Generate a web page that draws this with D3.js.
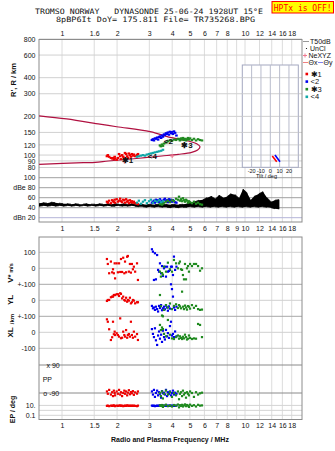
<!DOCTYPE html>
<html><head><meta charset="utf-8">
<script src="https://cdn.jsdelivr.net/npm/d3@7/dist/d3.min.js"></script>
<style>
body{margin:0;background:#fff;}
svg{display:block;}
text{font-family:"Liberation Sans",Arial,sans-serif;fill:#111;}
.mono{font-family:"DejaVu Sans Mono","Liberation Mono",monospace;}
</style></head><body>
<svg id="chart" width="335" height="451"></svg>
<script>
// ---------- header text ----------
const titleLine1 = "TROMSO NORWAY   DYNASONDE 25-06-24 1928UT 15°E";
const titleLine2 = "8pBP6It DoY= 175.811 File= TR735268.BPG";
const statusText = "HPTx is OFF!";

// ---------- axis ticks ----------
const freqTicksTop = [1, 1.5, 2, 3, 4, 5, 6, 7, 8, 10, 12, 14, 16, 18];
const freqLabelsTop = ["1", "1.6", "2", "3", "4", "5", "6", "7", "8", "10", "12", "14", "16", "18"];
const freqTicksMid = [1, 1.5, 2, 3, 4, 5, 6, 7, 8, 9, 10, 12, 14, 16, 18];
const freqTicksBottom = [1, 1.5, 2, 3, 4, 5, 6, 7, 8, 10, 12, 14, 16, 18];
const freqGrid = [1, 1.5, 2, 3, 4, 5, 6, 7, 8, 9, 10, 12, 14, 16, 18];
const heightTicks = [80, 90, 100, 120, 150, 200, 300, 400, 600, 800];
const dbTicks = [20, 40, 60, 80, 100];
const tiltTicks = [-20, -10, 0, 10, 20];
const tiltGrid = [-20, -10, 0, 10, 20];

// ---------- profile trace (MHz, km) ----------
const profileTrace = [
  [0.75, 202], [1.06, 191], [1.61, 174], [1.99, 166], [3.03, 152], [3.89, 137.4],
  [4.15, 135], [4.90, 128.6], [5.45, 122.6], [5.68, 116], [5.51, 109.5], [5.11, 105],
  [4.32, 101.3], [3.51, 98.3], [2.84, 95.4], [2.30, 92.7], [1.79, 89.9], [1.52, 87.8],
  [1.31, 87.2], [0.75, 84.7]
];
const neXYZ = [[4.0, 98.3], [2.19, 88.8]];

// ---------- tilt (deg, km) ----------
const tiltX = [[2.1, 98.3], [6.9, 88.8]];
const tiltY = [[5.0, 100], [10.4, 88.8]];

// ---------- noise amplitude (MHz, dB upper, dB lower) ----------
const noiseFreq = [0.749, 0.787, 0.828, 0.871, 0.916, 0.963, 1.013, 1.065, 1.120, 1.178, 1.239, 1.302,
  1.370, 1.440, 1.515, 1.593, 1.675, 1.762, 1.852, 1.948, 2.049, 2.154, 2.265, 2.382, 2.505, 2.634,
  2.771, 2.913, 3.064, 3.222, 3.389, 3.563, 3.747, 3.940, 4.145, 4.358, 4.583, 4.821, 5.070, 5.332,
  5.606, 5.895, 6.199, 6.520, 6.857, 7.210, 7.582, 7.973, 8.385, 8.819, 9.273, 9.752, 10.25, 10.78,
  11.34, 11.93, 12.54, 13.19, 13.87, 14.58, 15.34];
const noiseHi = [49, 50, 49, 51, 50, 49, 48, 48, 47, 48, 47, 47, 48, 47, 47, 48, 47, 48, 47, 48, 47, 48,
  47, 48, 47, 46, 47, 46, 47, 46, 47, 46, 47, 46, 47, 46, 47, 48, 50, 52, 55, 56, 60, 63, 58, 65, 60, 62,
  68, 66, 59, 77, 70, 55, 64, 68, 72, 60, 52, 55, 56];
const noiseLo = [43, 44, 43, 44, 43, 44, 43, 44, 43, 44, 43, 44, 43, 44, 43, 44, 43, 44, 43, 43, 44, 43,
  43, 44, 43, 42, 42, 41, 42, 41, 42, 41, 41, 40, 41, 40, 41, 41, 42, 41, 42, 41, 42, 41, 42, 41, 42, 41,
  42, 41, 42, 41, 42, 41, 42, 41, 42, 41, 40, 38, 37];

// ---------- echoes per source: MHz, km, dB, V* m/s, YL km, XL km, PP deg, EP deg ----------
const source1 = [
  [1.76, 98, 52, 58, -4, 81, -80, 8], [1.78, 100, 50, 27, 2, 66, -95, 9], [1.81, 97, 54, -31, 2, 19, -70, 7],
  [1.85, 95, 49, 42, 19, -48, -100, 9], [1.88, 94, 55, -25, 23, -31, -85, 8], [1.90, 95, 53, -6, 23, 66, -110, 9],
  [1.92, 93, 51, -31, 33, -12, -75, 10], [1.94, 97, 56, 31, 33, 4, -90, 8], [1.95, 94, 50, -63, 33, -17, -105, 7],
  [1.99, 92, 57, 31, 38, -6, -80, 9], [2.02, 95, 52, -25, 38, -17, -95, 8], [2.05, 102, 54, 31, 27, -27, -70, 9],
  [2.08, 98, 58, -23, 44, 87, -100, 10], [2.10, 93, 53, 58, 40, -37, -85, 8], [2.13, 100, 51, -23, 12, -34, -110, 9],
  [2.16, 97, 56, 66, 23, 4, -90, 7], [2.19, 95, 55, -31, 2, -17, -75, 8], [2.21, 104, 50, 42, -2, -27, -95, 9],
  [2.24, 102, 57, -25, 16, 14, -80, 8], [2.27, 98, 52, 72, -9, -34, -105, 10], [2.29, 95, 54, 77, 2, -17, -88, 9],
  [2.32, 103, 49, -21, -2, -11, -72, 8], [2.35, 100, 55, 27, 16, -27, -98, 9], [2.38, 97, 51, -27, -19, 66, -84, 8],
  [2.41, 102, 53, 27, -12, -17, -92, 9], [2.44, 99, 50, -6, 2, -34, -78, 8], [2.47, 101, 52, 10, -2, 4, -102, 9],
  [2.51, 98, 49, -21, -19, -27, -86, 8], [2.57, 100, 48, 31, -12, -11, -94, 7], [2.60, 102, 47, -73, -12, -48, -80, 9]
];
const source2 = [
  [3.10, 131, 50, 119, -35, 20, -80, 9], [3.14, 133, 52, 104, -50, -10, -100, 8], [3.18, 130, 54, -73, -45, -30, -70, 9],
  [3.22, 135, 50, 94, -60, 25, -115, 7], [3.26, 134, 56, -69, -40, -50, -90, 8], [3.31, 137, 53, 83, -55, -79, -75, 9],
  [3.35, 132, 55, -10, -70, -20, -105, 8], [3.39, 138, 51, -21, -35, 5, -85, 9], [3.43, 140, 57, 31, -48, -40, -95, 10],
  [3.48, 136, 52, -31, -30, -15, -120, 8], [3.52, 142, 54, 14, -62, -60, -78, 9], [3.56, 139, 50, -48, -50, 10, -92, 8],
  [3.61, 145, 56, 0, -40, -30, -88, 9], [3.65, 143, 58, 10, -56, -45, -100, 8], [3.70, 148, 53, -52, -33, 15, -70, 9],
  [3.75, 146, 55, 10, -45, -25, -110, 8], [3.79, 150, 51, -21, -65, -5, -85, 9], [3.84, 144, 57, -17, -38, -35, -95, 8],
  [3.89, 152, 54, -10, -52, 39, -80, 9], [3.94, 148, 56, 10, 100, 66, -105, 8], [3.99, 151, 52, 10, 70, -20, -90, 9],
  [4.04, 146, 55, -42, 23, -10, -75, 8], [4.09, 153, 53, 73, -45, -30, -100, 9], [4.15, 149, 51, -10, -60, 5, -88, 8],
  [4.22, 142, 50, 10, -40, -25, -95, 9]
];
const source3 = [
  [3.43, 119, 47, -21, 33, 46, -90, 10], [3.47, 117, 49, -52, -37, 14, -110, 8], [3.52, 121, 46, -30, -95, 30, -80, 12],
  [3.56, 118, 48, -40, -100, 20, -125, 5], [3.61, 123, 50, 10, -60, -10, -95, 9], [3.70, 125, 52, -21, -30, -25, -75, 14],
  [3.79, 128, 54, 35, -45, 77, -100, 7], [3.89, 130, 51, -6, -20, -15, -85, 10], [3.99, 129, 55, -21, -55, -38, -115, 6],
  [4.09, 132, 53, 52, -35, -42, -90, 12], [4.20, 131, 58, 31, -25, -30, -105, 9], [4.30, 134, 56, 0, -48, -20, -80, 15],
  [4.36, 133, 62, 31, -30, -40, -130, 4], [4.41, 130, 54, 42, -38, -25, -95, 11], [4.47, 135, 57, -6, -50, -35, -85, 8],
  [4.53, 132, 53, -10, 54, -42, -110, 13], [4.58, 136, 59, -42, -40, -28, -75, 6], [4.64, 131, 55, -69, -55, -38, -100, 10],
  [4.70, 134, 52, 27, -33, -15, -90, 16], [4.76, 130, 56, -69, -45, -30, -120, 7], [4.82, 133, 54, 0, -58, -45, -85, 12],
  [4.88, 136, 50, 14, -36, -40, -95, 9], [4.94, 132, 53, -21, -40, -20, -105, 5], [5.01, 135, 51, 27, -52, -35, -80, 14],
  [5.13, 131, 49, 14, -30, -42, -90, 8], [5.26, 134, 52, 27, -47, -38, -115, 11], [5.40, 130, 48, 27, -35, -40, -85, 6],
  [5.54, 133, 50, 14, -55, 52, -100, 13], [5.68, 131, 47, -15, -60, 46, -92, 9], [5.82, 130, 46, 0, -58, -30, -88, 10]
];
const source4 = [
  [2.57, 97, 50], [2.63, 98, 54], [2.70, 99, 48], [2.77, 100, 52], [2.84, 99, 55], [2.91, 101, 49], [2.99, 102, 53],
  [3.06, 103, 56], [3.14, 104, 50], [3.22, 105, 54], [3.31, 106, 52], [3.39, 107, 55], [3.48, 108, 51], [3.56, 110, 53]
];
const sourceNames = ["✱1", "<2", "✱3", "<4"];
const sourceColors = ["#ee0000", "#0000ee", "#208a20", "#10a8a8"];
const sourceMarks = [[2.28, 92.3], [3.81, 129.5], [4.82, 120.3], [3.12, 97.5]];

// ---------- layout ----------
const L = 39, R = 302;
const s1Top = 39.5, s1Bot = 222, s2Top = 237, s2Bot = 419.5;

const svg = d3.select("#chart");

const x = d3.scaleLog().domain([1, 10]).range([62, 245]);
const yH = d3.scaleLog().domain([80, 800]).range([167.5, 39]);
const yDb = d3.scaleLinear().domain([20, 100]).range([217.7, 177.7]);
const yV = d3.scaleLinear().domain([-100, 100]).range([284.3, 252.3]);
const yYL = d3.scaleLinear().domain([-100, 100]).range([316.3, 284.3]);
const yXL = d3.scaleLinear().domain([-100, 100]).range([348.3, 316.3]);
const yPP = d3.scaleLinear().domain([-90, 90]).range([393, 365]);
const yEP = d3.scaleLog().domain([0.1, 10]).range([415.3, 405.4]);
const xTilt = d3.scaleLinear().domain([-30, 30]).range([242.3, 298.3]);
const hTiltTop = 65, hTiltBot = 167.3;

const defs = svg.append("defs");
defs.append("clipPath").attr("id", "clipH").append("rect")
  .attr("x", L).attr("y", s1Top).attr("width", R - L).attr("height", 172 - s1Top);
defs.append("clipPath").attr("id", "clip1").append("rect")
  .attr("x", L).attr("y", s1Top).attr("width", R - L).attr("height", s1Bot - s1Top);

// ---------- header ----------
svg.append("text").attr("class", "mono").attr("x", 35).attr("y", 13.6)
  .attr("textLength", 228).attr("lengthAdjust", "spacingAndGlyphs")
  .style("font-size", "7.4px").attr("xml:space", "preserve").text(titleLine1);
svg.append("text").attr("class", "mono").attr("x", 56).attr("y", 22.3)
  .attr("textLength", 199).attr("lengthAdjust", "spacingAndGlyphs")
  .style("font-size", "7.4px").attr("xml:space", "preserve").text(titleLine2);
svg.append("rect").attr("x", 272).attr("y", 1.5).attr("width", 61.5).attr("height", 11.5)
  .attr("fill", "#ffff00").attr("stroke", "#ff0000").attr("stroke-width", 1);
svg.append("text").attr("class", "mono").attr("x", 302.7).attr("y", 10.6).attr("text-anchor", "middle")
  .style("font-size", "8px").style("fill", "#ff0000").text(statusText);

// ---------- section grids ----------
function vGrid(top, bot) {
  svg.append("g").selectAll("line").data(freqGrid).join("line")
    .attr("x1", d => x(d)).attr("x2", d => x(d)).attr("y1", top).attr("y2", bot)
    .attr("stroke", "#dcdcdc").attr("stroke-width", 1);
}
vGrid(s1Top, s1Bot);
vGrid(s2Top, s2Bot);

// height gridlines
svg.append("g").selectAll("line").data(heightTicks).join("line")
  .attr("x1", L).attr("x2", R).attr("y1", d => yH(d)).attr("y2", d => yH(d))
  .attr("stroke", "#d0d0d0");
// amplitude gridlines
svg.append("g").selectAll("line").data(dbTicks).join("line")
  .attr("x1", L).attr("x2", R).attr("y1", d => yDb(d)).attr("y2", d => yDb(d))
  .attr("stroke", d => d === 20 ? "#b4b4d8" : "#a0a0a0");

// lower section gridlines
const lowerLines = [
  [yV(100), "#d0d0d0"], [yV(0), "#d0d0d0"], [yV(-100), "#a8a8a8"],
  [yYL(0), "#d0d0d0"], [yYL(-100), "#a8a8a8"], [yXL(0), "#d0d0d0"], [yXL(-100), "#c8c8c8"],
  [yPP(90), "#8a8a8a"], [yPP(-90), "#8a8a8a"],
  [yEP(10), "#d4d4d4"], [yEP(1), "#d4d4d4"], [yEP(0.1), "#d4d4d4"]
];
svg.append("g").selectAll("line").data(lowerLines).join("line")
  .attr("x1", L).attr("x2", R).attr("y1", d => d[0]).attr("y2", d => d[0])
  .attr("stroke", d => d[1]);

// section frames
[[s1Top, s1Bot], [s2Top, s2Bot]].forEach(([t, b]) => {
  svg.append("rect").attr("x", L).attr("y", t).attr("width", R - L).attr("height", b - t)
    .attr("fill", "none").attr("stroke", "#8c8c8c").attr("stroke-width", 1);
});

// ---------- frequency axes ----------
function freqAxis(axisFn, vals, labels, yPos) {
  const ax = axisFn(x).tickValues(vals).tickSize(0).tickPadding(0)
    .tickFormat((d, i) => labels ? labels[i] : String(d));
  const g = svg.append("g").attr("transform", `translate(0,${yPos})`).call(ax);
  g.select(".domain").remove();
  g.selectAll("text").style("font-size", "7px").style("font-family", "Liberation Sans, Arial, sans-serif")
    .attr("fill", "#111");
  return g;
}
freqAxis(d3.axisTop, freqTicksTop, freqLabelsTop, 35.5).selectAll("text").attr("dy", 0);
freqAxis(d3.axisBottom, freqTicksMid, null, 226).selectAll("text").attr("dy", "0.71em");
freqAxis(d3.axisBottom, freqTicksBottom, null, 423).selectAll("text").attr("dy", "0.71em");

// ---------- left axes ----------
function leftAxis(scale, vals, fmt) {
  const g = svg.append("g").attr("transform", `translate(35.5,0)`)
    .call(d3.axisLeft(scale).tickValues(vals).tickSize(0).tickPadding(0).tickFormat(fmt));
  g.select(".domain").remove();
  g.selectAll("text").style("font-size", "7px").style("font-family", "Liberation Sans, Arial, sans-serif")
    .attr("fill", "#111");
}
leftAxis(yH, heightTicks, d => String(d));
leftAxis(yDb, dbTicks, d => d === 80 ? "dBe 80" : d === 20 ? "dBn 20" : String(d));
leftAxis(yV, [100, 0, -100], d => d === -100 ? "+-100" : String(d));
leftAxis(yYL, [0, -100], d => d === -100 ? "+-100" : String(d));
leftAxis(yXL, [0, -100], d => String(d));
leftAxis(yEP, [10, 0.1], d => d === 10 ? "10." : "0.1");

// polarization labels inside the plot
svg.append("text").attr("x", 46.5).attr("y", yPP(90) + 2.5).style("font-size", "7px").text("x 90");
svg.append("text").attr("x", 43.3).attr("y", yPP(-90) + 2.5).style("font-size", "7px").text("o -90");
svg.append("text").attr("x", 42.7).attr("y", yPP(0) + 2.5).style("font-size", "7px").text("PP");

// axis titles
function vTitle(txt, cx, cy, size, weight) {
  svg.append("text").attr("transform", `translate(${cx},${cy}) rotate(-90)`)
    .attr("text-anchor", "middle").style("font-size", size).style("font-weight", weight || "bold").text(txt);
}
vTitle("R', R / km", 15.5, 80, "7.5px");
const vt = svg.append("text").attr("transform", "translate(12.5,273) rotate(-90)").attr("text-anchor", "middle")
  .style("font-weight", "bold");
vt.append("tspan").style("font-size", "8px").text("V*");
vt.append("tspan").style("font-size", "5.5px").attr("dx", 1.5).text("m/s");
vTitle("YL", 12.5, 300, "8px");
vTitle("/km", 14, 319, "6px");
vTitle("XL", 12.5, 332.5, "8px");
vTitle("EP / deg", 14.5, 409.5, "7px");
svg.append("text").attr("x", 170).attr("y", 441.5).attr("text-anchor", "middle")
  .style("font-size", "7px").style("font-weight", "bold").text("Radio and Plasma Frequency / MHz");

// ---------- tilt inset ----------
svg.append("rect").attr("x", xTilt(-30)).attr("y", hTiltTop).attr("width", xTilt(30) - xTilt(-30))
  .attr("height", hTiltBot - hTiltTop).attr("fill", "#fff").attr("stroke", "#a4a8c0");
svg.append("g").selectAll("line").data(heightTicks.filter(d => yH(d) > hTiltTop && yH(d) < hTiltBot)).join("line")
  .attr("x1", xTilt(-30)).attr("x2", xTilt(30)).attr("y1", d => yH(d)).attr("y2", d => yH(d))
  .attr("stroke", "#d0d0d0");
svg.append("g").selectAll("line").data(tiltGrid).join("line")
  .attr("x1", d => xTilt(d)).attr("x2", d => xTilt(d)).attr("y1", hTiltTop).attr("y2", hTiltBot)
  .attr("stroke", "#b8bccc");
svg.append("g").selectAll("text").data(tiltTicks).join("text")
  .attr("x", d => xTilt(d)).attr("y", 173).attr("text-anchor", "middle").style("font-size", "5.5px").text(d => d);
svg.append("text").attr("x", 266.5).attr("y", 177.8).attr("text-anchor", "middle").style("font-size", "5.5px")
  .text("Tilt / deg");
const tiltLine = d3.line().x(d => xTilt(d[0])).y(d => yH(d[1]));
svg.append("path").attr("d", tiltLine(tiltX)).attr("fill", "none").attr("stroke", "#ff0000").attr("stroke-width", 1.6);
svg.append("path").attr("d", tiltLine(tiltY)).attr("fill", "none").attr("stroke", "#0000ff").attr("stroke-width", 1.6);

// ---------- height panel ----------
const gH = svg.append("g").attr("clip-path", "url(#clipH)");
gH.append("path")
  .attr("d", d3.line().x(d => x(d[0])).y(d => yH(d[1])).curve(d3.curveCatmullRom.alpha(0.5))(profileTrace))
  .attr("fill", "none").attr("stroke", "#b01040").attr("stroke-width", 1.2);

const allSources = [source1, source2, source3, source4];
allSources.forEach((src, si) => {
  gH.append("g").selectAll("rect").data(src).join("rect")
    .attr("x", d => x(d[0]) - 1.3).attr("y", d => yH(d[1]) - 1).attr("width", 2.6).attr("height", 2.1)
    .attr("fill", sourceColors[si]);
});
gH.append("g").selectAll("path").data(neXYZ).join("path")
  .attr("d", d => `M${x(d[0]) - 2},${yH(d[1])}h4M${x(d[0])},${yH(d[1]) - 2}v4`)
  .attr("stroke", "#f07890").attr("stroke-width", 1);
gH.append("g").selectAll("text").data(sourceMarks).join("text")
  .attr("x", d => x(d[0])).attr("y", d => yH(d[1]) + 3).attr("text-anchor", "middle")
  .style("font-size", "8px").style("font-weight", "bold").attr("fill", "#000")
  .text((d, i) => sourceNames[i]);

// ---------- amplitude panel ----------
const g1 = svg.append("g").attr("clip-path", "url(#clip1)");
const noise = noiseFreq.map((f, i) => ({ f, hi: noiseHi[i], lo: noiseLo[i] }));
g1.append("path")
  .attr("d", d3.area().x(d => x(d.f)).y0(d => yDb(d.lo)).y1(d => yDb(d.hi))(noise))
  .attr("fill", "#000");
const zig = [];
noise.forEach((d, i) => {
  if (i % 2 === 0) { zig.push([d.f, d.hi]); zig.push([d.f, d.lo]); }
  else { zig.push([d.f, d.lo]); zig.push([d.f, d.hi]); }
});
g1.append("path").attr("d", d3.line().x(d => x(d[0])).y(d => yDb(d[1]))(zig))
  .attr("fill", "none").attr("stroke", "#000").attr("stroke-width", 0.8);
allSources.forEach((src, si) => {
  g1.append("g").selectAll("rect").data(src).join("rect")
    .attr("x", d => x(d[0]) - 1.2).attr("y", d => yDb(d[2]) - 1.1).attr("width", 2.4).attr("height", 2.2)
    .attr("fill", sourceColors[si]);
});

// ---------- lower panels ----------
const lowerPanels = [[3, yV], [4, yYL], [5, yXL], [6, yPP], [7, yEP]];
[source1, source2, source3].forEach((src, si) => {
  lowerPanels.forEach(([k, sc]) => {
    svg.append("g").selectAll("rect").data(src).join("rect")
      .attr("x", d => x(d[0]) - 1.1).attr("y", d => sc(d[k]) - 1.1).attr("width", 2.2).attr("height", 2.2)
      .attr("fill", sourceColors[si]);
  });
});

// ---------- right legend ----------
const lg = svg.append("g").style("font-size", "7px");
lg.append("line").attr("x1", 303).attr("x2", 309).attr("y1", 41.5).attr("y2", 41.5).attr("stroke", "#999");
lg.append("text").attr("x", 310).attr("y", 44).text("T50dB");
lg.append("circle").attr("cx", 306.5).attr("cy", 48.5).attr("r", 0.6).attr("fill", "#000");
lg.append("text").attr("x", 310).attr("y", 51).text("UnCl");
lg.append("path").attr("d", "M303,55.5h4M305,53.5v4").attr("stroke", "#f07890");
lg.append("text").attr("x", 308.5).attr("y", 58).text("NeXYZ");
lg.append("line").attr("x1", 303).attr("x2", 308).attr("y1", 62.5).attr("y2", 62.5).attr("stroke", "#f08080");
lg.append("text").attr("x", 308.5).attr("y", 65).text("Θx");
lg.append("line").attr("x1", 318).attr("x2", 323).attr("y1", 62.5).attr("y2", 62.5).attr("stroke", "#8080f0");
lg.append("text").attr("x", 323.5).attr("y", 65).text("Θy");
sourceNames.forEach((nm, i) => {
  const yy = 74 + i * 7.6;
  lg.append("rect").attr("x", 305.5).attr("y", yy - 1.3).attr("width", 2.6).attr("height", 2.6).attr("fill", sourceColors[i]);
  lg.append("text").attr("x", 310.5).attr("y", yy + 2.5).style("font-size", "7.5px").text(nm);
});
</script>
</body></html>
